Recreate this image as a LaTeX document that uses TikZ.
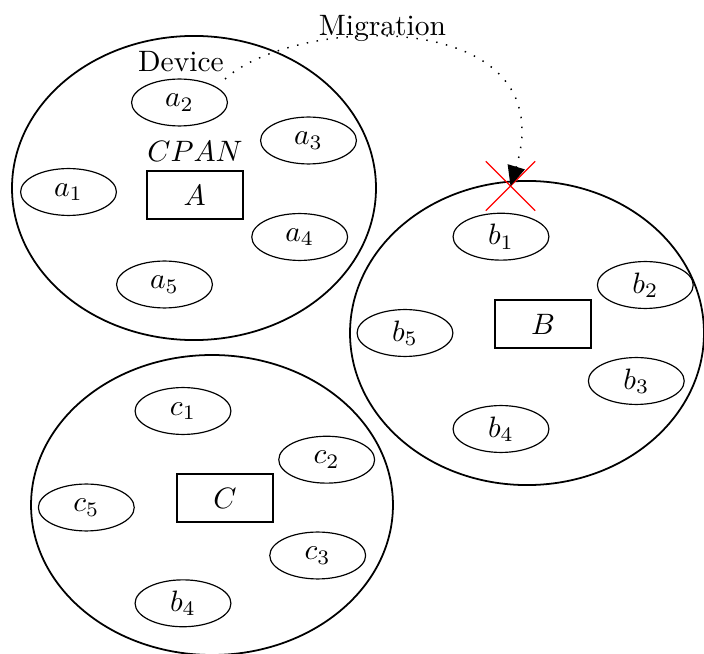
\documentclass[tikz,border=0pt]{standalone}
\usetikzlibrary{shapes.geometric,shapes.misc,arrows.meta}
\begin{document}
\begin{tikzpicture}[x=0.339pt,y=-0.339pt,
  net/.style={draw,ellipse,line width=0.6pt,inner sep=0pt},
  dev/.style={draw,ellipse,line width=0.4pt,inner sep=0pt,minimum width=32.5pt,minimum height=15.9pt},
  head/.style={draw,rectangle,line width=0.7pt,inner sep=0pt,minimum width=32.5pt,minimum height=16.3pt},
  xmark/.style={draw=red,cross out,line width=0.45pt,inner sep=0pt,minimum size=16.3pt},
  mig/.style={line width=0.5pt,dash pattern=on 0.5pt off 2.9pt,-{Triangle[length=6.8pt,width=6pt]}}]
\useasboundingbox (0,0) rectangle (704,654);
% networks
\node[net,minimum width=123.4pt,minimum height=103.1pt] (netA) at (194,188) {};
\node[net,minimum width=120pt,minimum height=103.1pt] (netB) at (527,333) {};
\node[net,minimum width=122.7pt,minimum height=101.7pt] (netC) at (212,505) {};
% network A
\node[dev] (a1) at (68.5,192) {$a_1$};
\node[dev] (a2) at (179.5,102.5) {$a_2$};
\node[dev] (a3) at (308.5,140.5) {$a_3$};
\node[dev] (a4) at (299.7,237) {$a_4$};
\node[dev] (a5) at (164.5,284.5) {$a_5$};
\node[head] (A) at (194.7,195) {$A$};
\node[anchor=base] (cpan) at (195,162) {$CPAN$};
\node[anchor=base] (device) at (181,72) {Device};
% network B
\node[dev] (b1) at (501,236.7) {$b_1$};
\node[dev] (b2) at (645.3,285) {$b_2$};
\node[dev] (b3) at (636.3,381) {$b_3$};
\node[dev] (b4) at (501,429) {$b_4$};
\node[dev] (b5) at (405,333) {$b_5$};
\node[head] (B) at (543,324) {$B$};
% network C
\node[dev] (c1) at (183,411) {$c_1$};
\node[dev] (c2) at (326.7,459.7) {$c_2$};
\node[dev] (c3) at (317.7,555.5) {$c_3$};
\node[dev] (cb4) at (183,603.3) {$b_4$};
\node[dev] (c5) at (86.3,507.5) {$c_5$};
\node[head] (C) at (225,498) {$C$};
% migration
\node[xmark] (cross) at (510.5,186) {};
\node[anchor=base] (miglabel) at (382.5,36) {Migration};
\coordinate (mstart) at (225,79);
\draw[mig] (mstart) .. controls (295,15) and (565,5) .. (cross.center);
\end{tikzpicture}
\end{document}
